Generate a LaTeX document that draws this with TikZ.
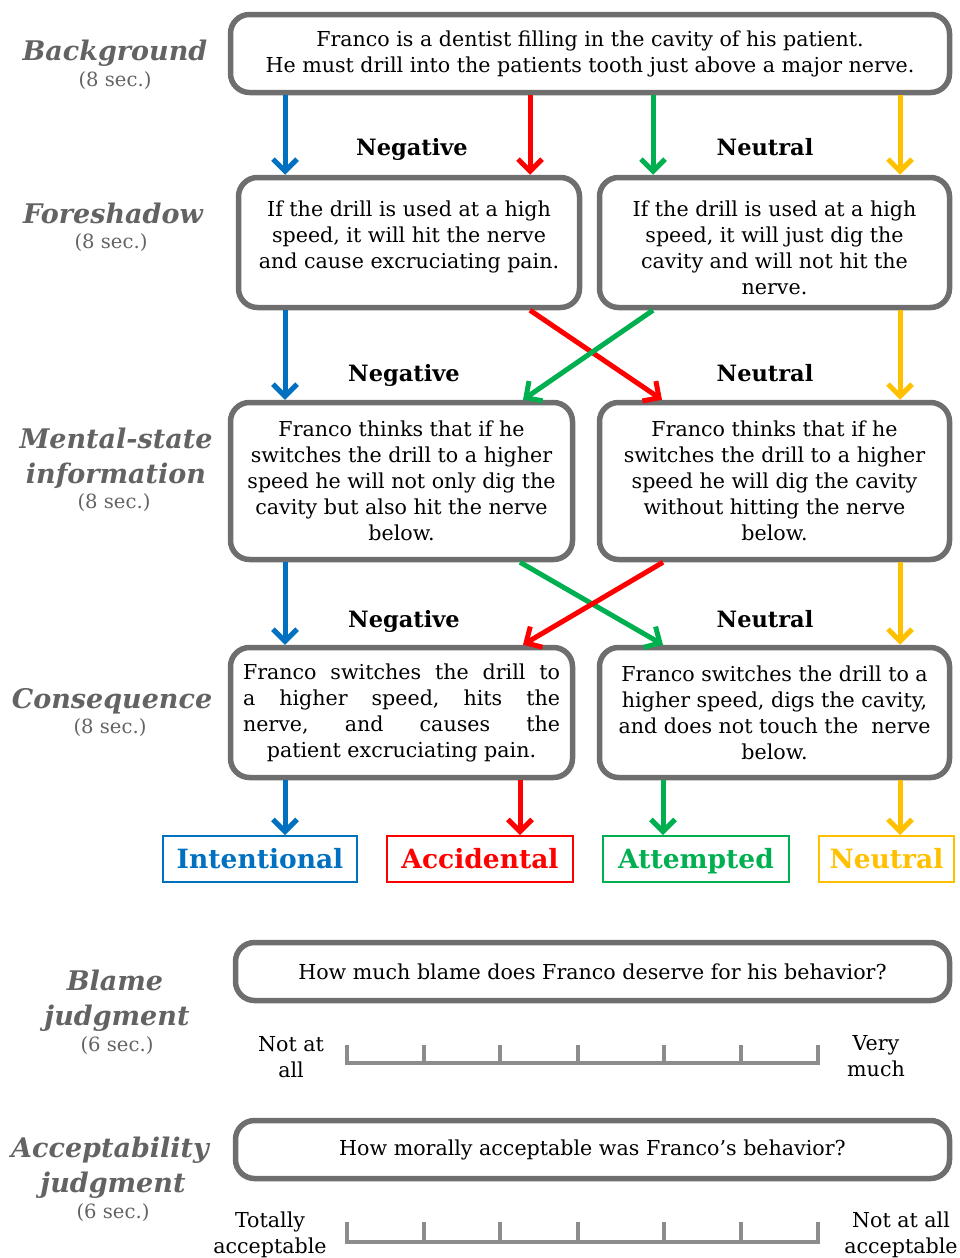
\documentclass[tikz,border=0pt]{standalone}
\usepackage{fontspec}
\setmainfont{DejaVu Serif}
\usetikzlibrary{arrows.meta,calc}
\definecolor{cblue}{HTML}{0070C0}
\definecolor{cred}{HTML}{FF0000}
\definecolor{cgreen}{HTML}{00B050}
\definecolor{cyel}{HTML}{FFC000}
\definecolor{cbord}{HTML}{6E6E6E}
\definecolor{clab}{HTML}{636363}
\definecolor{cbar}{HTML}{8C8C8C}
\newcommand\myBody{\fontsize{20.6}{26}\selectfont}
\newcommand\myHead{\fontsize{27}{30}\selectfont\bfseries\itshape}
\newcommand\mySec{\fontsize{19.6}{26}\selectfont}
\newcommand\myOut{\fontsize{26.5}{30}\selectfont\bfseries}
\newcommand\myCond{\fontsize{22.5}{26}\selectfont\bfseries}
\newcommand\myTop{\rule{0pt}{26pt}}
\tikzset{
  box/.style={draw=cbord, line width=5.5pt, rounded corners=19pt, align=center,
    inner sep=0pt, font=\myBody, text=black},
  flow/.style={line width=5pt, -{Straight Barb[length=12pt,width=24pt]}},
  outbox/.style={draw=#1, line width=2pt, text=#1, font=\myOut, inner sep=0pt,
    minimum height=46pt, text height=19.5pt, text depth=0pt},
  headlab/.style={text=clab, font=\myHead, anchor=base, inner sep=0pt},
  seclab/.style={text=clab, font=\mySec, inner sep=0pt},
  condlab/.style={font=\myCond, anchor=base, inner sep=0pt},
  ratebar/.style={draw=cbar, line width=4pt},
  endlab/.style={font=\myBody, align=center, inner sep=0pt},
}
\begin{document}
\begin{tikzpicture}[x=1pt,y=-1pt]
\useasboundingbox (0,0) rectangle (959,1258);

% ---- left stage labels
\node[headlab] (hbg) at (115,60) {Background};
\node[seclab] (sbg) at (115,81) {(8 sec.)};
\node[headlab] (hfs) at (113,223) {Foreshadow};
\node[seclab] (sfs) at (111,243) {(8 sec.)};
\node[headlab] (hms1) at (116,448) {Mental-state};
\node[headlab] (hms2) at (116,483) {information};
\node[seclab] (sms) at (114,503) {(8 sec.)};
\node[headlab] (hcq) at (112,708) {Consequence};
\node[seclab] (scq) at (110,728) {(8 sec.)};
\node[headlab] (hbl1) at (115,990) {Blame};
\node[headlab] (hbl2) at (117,1025) {judgment};
\node[seclab] (sbl) at (117,1046) {(6 sec.)};
\node[headlab] (hac1) at (110,1157) {Acceptability};
\node[headlab] (hac2) at (113,1192) {judgment};
\node[seclab] (sac) at (113,1213) {(6 sec.)};

% ---- boxes
\node[box, minimum width=719pt, minimum height=78pt] (bg) at (590,53.5)
  {Franco is a dentist filling in the cavity of his patient.\\
   He must drill into the patients tooth just above a major nerve.};
\node[box, minimum width=341pt, minimum height=130pt] (fl) at (409,242.5)
  {\myTop If the drill is used at a high\\ speed, it will hit the nerve\\
   and cause excruciating pain.\\ \rule{0pt}{0pt}};
\node[box, minimum width=350pt, minimum height=130pt] (fr) at (774.5,242.5)
  {\myTop If the drill is used at a high\\ speed, it will just dig the\\
   cavity and will not hit the\\ nerve.};
\node[box, minimum width=342pt, minimum height=157pt] (ml) at (401.5,481)
  {Franco thinks that if he\\ switches the drill to a higher\\
   speed he will not only dig the\\ cavity but also hit the nerve\\ below.};
\node[box, minimum width=350pt, minimum height=157pt] (mr) at (774.5,481)
  {Franco thinks that if he\\ switches the drill to a higher\\
   speed he will dig the cavity\\ without hitting the nerve\\ below.};
\node[box, minimum width=342pt, minimum height=130pt] (cl) at (401.5,712.5)
  {\hbox to 317pt{Franco\hfill switches\hfill the\hfill drill\hfill to}\\
   \hbox to 317pt{a\hfill higher\hfill speed,\hfill hits\hfill the}\\
   \hbox to 317pt{nerve,\hfill and\hfill causes\hfill the}\\
   patient excruciating pain.};
\node[box, minimum width=350pt, minimum height=130pt] (cr) at (774.5,712.5)
  {Franco switches the drill to a\\ higher speed, digs the cavity,\\
   and does not touch the\ \ nerve\\ below.};

% ---- outcome boxes
\node[outbox=cblue, minimum width=194pt] (oint) at (260,859) {Intentional};
\node[outbox=cred, minimum width=186pt] (oacc) at (480,859) {Accidental};
\node[outbox=cgreen, minimum width=186pt] (oatt) at (696,859) {Attempted};
\node[outbox=cyel, minimum width=135pt] (oneu) at (886.5,859) {Neutral};

% ---- condition labels
\node[condlab] (n1) at (412,155) {Negative};
\node[condlab] (u1) at (765,155) {Neutral};
\node[condlab] (n2) at (404,381) {Negative};
\node[condlab] (u2) at (765,381) {Neutral};
\node[condlab] (n3) at (404,627) {Negative};
\node[condlab] (u3) at (765,627) {Neutral};

% ---- x positions
\coordinate (xB) at (285,0);
\coordinate (xR) at (530,0);
\coordinate (xG) at (653,0);
\coordinate (xY) at (900,0);
\coordinate (xL2) at (523,0);
\coordinate (xR2) at (662,0);
\coordinate (xL3) at (520,0);
\coordinate (xR3) at (663,0);

% ---- flows: background -> foreshadow
\draw[flow, cblue] (bg.south -| xB) -- (fl.north -| xB);
\draw[flow, cred] (bg.south -| xR) -- (fl.north -| xR);
\draw[flow, cgreen] (bg.south -| xG) -- (fr.north -| xG);
\draw[flow, cyel] (bg.south -| xY) -- (fr.north -| xY);
% ---- foreshadow -> mental state
\draw[flow, cblue] (fl.south -| xB) -- (ml.north -| xB);
\draw[flow, cred] (fl.south -| xR) -- (mr.north -| xR2);
\draw[flow, cgreen] (fr.south -| xG) -- (ml.north -| xL2);
\draw[flow, cyel] (fr.south -| xY) -- (mr.north -| xY);
% ---- mental state -> consequence
\draw[flow, cblue] (ml.south -| xB) -- (cl.north -| xB);
\draw[flow, cgreen] (ml.south -| xL3) -- (cr.north -| xR3);
\draw[flow, cred] (mr.south -| xR3) -- (cl.north -| xL2);
\draw[flow, cyel] (mr.south -| xY) -- (cr.north -| xY);
% ---- consequence -> outcome
\draw[flow, cblue] (cl.south -| xB) -- (oint.north -| xB);
\draw[flow, cred] (cl.south -| xL3) -- (oacc.north -| xL3);
\draw[flow, cgreen] (cr.south -| xR3) -- (oatt.north -| xR3);
\draw[flow, cyel] (cr.south -| xY) -- (oneu.north -| xY);

% ---- judgment boxes
\node[box, minimum width=714pt, minimum height=58pt] (qbl) at (592.5,971.5)
  {How much blame does Franco deserve for his behavior?};
\node[box, minimum width=714pt, minimum height=58pt] (qac) at (592.5,1149.5)
  {How morally acceptable was Franco’s behavior?};

% ---- rating scales
\draw[ratebar] (347,1045) -- (347,1063) -- (818,1063) -- (818,1045);
\foreach \t in {424,500,578,664,741} \draw[ratebar] (\t,1045) -- (\t,1063);
\draw[ratebar] (347,1222) -- (347,1242) -- (818,1242) -- (818,1222);
\foreach \t in {424,500,578,664,741} \draw[ratebar] (\t,1222) -- (\t,1242);

\node[endlab] (bl1) at (291,1057) {Not at\\ all};
\node[endlab] (bl2) at (876,1056) {Very\\ much};
\node[endlab] (al1) at (270,1235) {Totally\\ acceptable};
\node[endlab] (al2) at (901,1235) {Not at all\\ acceptable};
\end{tikzpicture}
\end{document}
